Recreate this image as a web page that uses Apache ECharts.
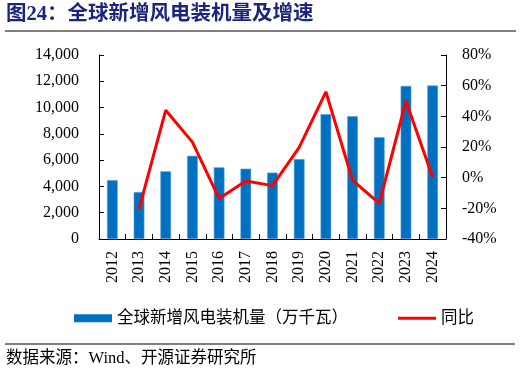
<!DOCTYPE html>
<html>
<head>
<meta charset="utf-8">
<script src="https://cdn.jsdelivr.net/npm/echarts@6/dist/echarts.min.js"></script>
<style>html,body{margin:0;padding:0;background:#fff}#c{width:522px;height:374px}</style>
</head>
<body>
<div id="c"></div>
<script>
var years = ['2012','2013','2014','2015','2016','2017','2018','2019','2020','2021','2022','2023','2024'];
var capacity = [4480, 3570, 5150, 6330, 5450, 5350, 5050, 6080, 9500, 9340, 7750, 11650, 11680];
var yoy = [null, -20.3, 44.0, 23.2, -13.6, -2.2, -5.2, 19.8, 56.0, -1.8, -16.8, 50.0, 0.2];
var leftTicks = [0, 14000, 2000];
var rightTicks = [-40, 80, 20];
var titleText = '图24：全球新增风电装机量及增速';
var sourceText = '数据来源：Wind、开源证券研究所';
var barName = '全球新增风电装机量（万千瓦）';
var lineName = '同比';

var serif = "'Liberation Serif','Times New Roman','Noto Sans CJK SC',serif";
var chart = echarts.init(document.getElementById('c'), null, {renderer: 'canvas'});
chart.setOption({
  animation: false,
  backgroundColor: '#fff',
  grid: {left: 99, right: 76, top: 55, bottom: 135},
  legend: {
    top: 305, left: 69,
    itemGap: 50, itemWidth: 38, itemHeight: 8,
    textStyle: {fontFamily: serif, fontSize: 16.5, color: '#000'},
    data: [
      {name: barName, icon: 'rect', itemStyle: {borderWidth: 0}},
      {name: lineName, icon: 'path://M0,0L40,0L40,3L0,3Z'}
    ]
  },
  graphic: [
    {type: 'text', left: 6, top: 4, style: {text: titleText, fontFamily: "'Liberation Serif','Noto Sans CJK SC',serif", fontWeight: 'bold', fontSize: 20.5, fill: '#1b2580'}},
    {type: 'line', shape: {x1: 5, y1: 31, x2: 516, y2: 31}, style: {stroke: '#000', lineWidth: 1}},
    {type: 'line', shape: {x1: 5, y1: 344, x2: 515, y2: 344}, style: {stroke: '#000', lineWidth: 1}},
    {type: 'text', left: 6, top: 350, style: {text: sourceText, fontFamily: serif, fontSize: 16.5, fill: '#000'}}
  ],
  xAxis: {
    type: 'category', data: years,
    axisLine: {lineStyle: {color: '#000', width: 1}},
    axisTick: {show: true, inside: true, length: 5, alignWithLabel: false, lineStyle: {color: '#000'}},
    axisLabel: {rotate: 90, fontFamily: serif, fontSize: 16, color: '#000', margin: 12}
  },
  yAxis: [
    {
      type: 'value', min: leftTicks[0], max: leftTicks[1], interval: leftTicks[2],
      axisLine: {show: true, lineStyle: {color: '#000'}},
      axisTick: {show: true, inside: true, length: 5, lineStyle: {color: '#000'}},
      splitLine: {show: false},
      axisLabel: {fontFamily: serif, fontSize: 16, color: '#000', margin: 20,
        formatter: function (v) { return v.toLocaleString('en-US'); }}
    },
    {
      type: 'value', min: rightTicks[0], max: rightTicks[1], interval: rightTicks[2],
      axisLine: {show: true, lineStyle: {color: '#000'}},
      axisTick: {show: true, inside: true, length: 5, lineStyle: {color: '#000'}},
      splitLine: {show: false},
      axisLabel: {fontFamily: serif, fontSize: 16, color: '#000', margin: 16,
        formatter: function (v) { return v + '%'; }}
    }
  ],
  series: [
    {
      name: barName, type: 'bar', data: capacity, yAxisIndex: 0,
      barWidth: '40%',
      itemStyle: {color: '#0070c0', borderColor: '#5aa0d8', borderWidth: 0.6}
    },
    {
      name: lineName, type: 'line', data: yoy, yAxisIndex: 1,
      showSymbol: false, symbol: 'none',
      lineStyle: {color: '#ff0000', width: 3},
      itemStyle: {color: '#ff0000'}
    }
  ]
});
</script>
</body>
</html>
